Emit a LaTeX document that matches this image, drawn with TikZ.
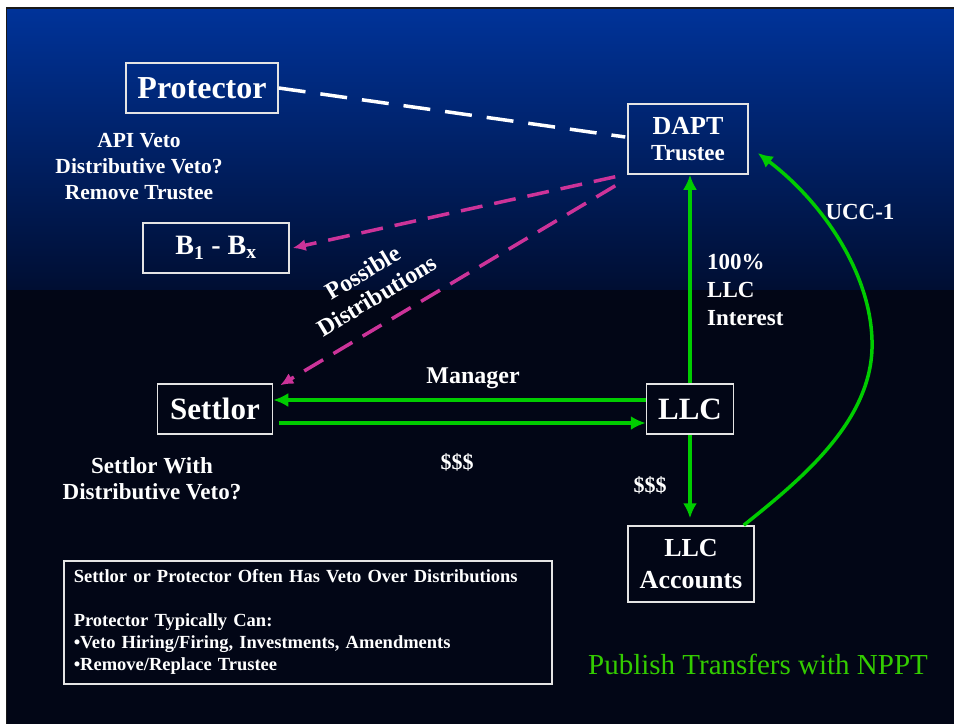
\documentclass[tikz,border=0pt]{standalone}
\usepackage{fontspec}
\setmainfont{Liberation Serif}
\usetikzlibrary{arrows.meta,positioning}
\definecolor{slidetop}{RGB}{0,51,153}
\definecolor{slidemid}{RGB}{0,14,50}
\definecolor{slidebot}{RGB}{2,6,22}
\definecolor{boxline}{RGB}{228,228,228}
\definecolor{linkgreen}{RGB}{0,204,0}
\definecolor{distpink}{RGB}{204,51,153}
\definecolor{notegreen}{RGB}{51,204,0}
\newcommand{\txt}[2]{\fontsize{#1}{#2}\selectfont\bfseries}

\begin{document}
\begin{tikzpicture}[
    x=1pt, y=-1pt,
    block/.style={rectangle, draw=boxline, line width=1.5pt, text=white, align=center, inner sep=0pt},
    label/.style={text=white, align=center, inner sep=0pt},
    line/.style={draw=linkgreen, line width=3.5pt, -{Latex[length=15pt,width=14pt]}},
    dist/.style={draw=distpink, line width=3.5pt, dash pattern=on 22pt off 12pt, -{Latex[length=13pt,width=12pt]}}
    ]
    % slide background
    \useasboundingbox (0,0) rectangle (954,724);
    \fill[black!90] (0,0) rectangle (954,724);
    \fill[white] (0,0) rectangle (954,7);
    \fill[white] (0,0) rectangle (6,724);
    \shade[top color=slidetop, bottom color=slidemid] (7,9) rectangle (954,290);
    \fill[slidebot] (7,290) rectangle (954,724);

    \node [block, minimum width=152, minimum height=50, font=\txt{32}{36}] (protector) at (202,88) {Protector};
    \node [block, minimum width=120, minimum height=70, font=\txt{26}{28}] (dapt) at (688,139) {DAPT\\[-2pt]{\txt{23}{26}Trustee}};
    \node [block, minimum width=146, minimum height=50, font=\txt{28}{32}] (benef) at (216,248) {B\textsubscript{1} - B\textsubscript{x}};
    \node [block, minimum width=115, minimum height=50, font=\txt{31}{34}] (settlor) at (215,409) {Settlor};
    \node [block, minimum width=87, minimum height=50, font=\txt{31}{34}] (llc) at (690,409) {LLC};
    \node [block, minimum width=126, minimum height=76, font=\txt{26}{32}] (accounts) at (691,564) {LLC\\Accounts};
    \node [block, anchor=north west, minimum width=488, minimum height=123, text width=468, align=left,
        font=\txt{18.5}{22}] (notes) at (63,560)
        {Settlor or Protector Often Has Veto Over Distributions\\[22pt]
         Protector Typically Can:\\
         •Veto Hiring/Firing, Investments, Amendments\\
         •Remove/Replace Trustee};

    \node [label, font=\txt{21.5}{26}] (vetoes) at (139,167) {API Veto\\Distributive Veto?\\Remove Trustee};
    \node [label, font=\txt{23}{26}] (settlorveto) at (152,479) {Settlor With\\Distributive Veto?};
    \node [label, font=\txt{24}{27}, rotate=31] (possible) at (370,284) {Possible\\Distributions};
    \node [label, font=\txt{24}{28}] (manager) at (473,378) {Manager};
    \node [label, font=\txt{22}{26}] (cashin) at (457,462) {\$\$\$};
    \node [label, font=\txt{22}{26}] (cashdown) at (650,485) {\$\$\$};
    \node [label, anchor=west, align=left, font=\txt{23}{28}] (interest) at (707,290) {100\%\\LLC\\Interest};
    \node [label, font=\txt{23}{26}] (ucc) at (860,212) {UCC-1};
    \node [text=notegreen, inner sep=0pt, font=\fontsize{29}{32}\selectfont] (publish) at (758,664) {Publish Transfers with NPPT};

    \draw [white, line width=3.5pt, dash pattern=on 27pt off 15pt] (protector.east) -- ([xshift=-2pt,yshift=2pt]dapt.west);
    \path [dist] ([xshift=-12pt,yshift=-2pt]dapt.south west) -- ([xshift=3pt]benef.east);
    \path [dist] ([xshift=-12pt,yshift=-11pt]dapt.south west) -- ([xshift=7pt,yshift=-2pt]settlor.north east);

    \path [line] (llc.north) -- (llc.north |- dapt.south);
    \path [line] ([yshift=9pt]llc.west) -- ([yshift=9pt]settlor.east);
    \path [line] ([xshift=6pt,yshift=-14pt]settlor.east) -- ([yshift=-14pt]llc.west);
    \path [line] (llc.south) -- ([yshift=7pt]llc.south |- accounts.north);
    \path [line] ([xshift=-11pt]accounts.north east) .. controls (800,480) and (875,420) .. (872,340)
        .. controls (870,270) and (820,200) .. ([xshift=9pt,yshift=-14pt]dapt.east);
\end{tikzpicture}
\end{document}
